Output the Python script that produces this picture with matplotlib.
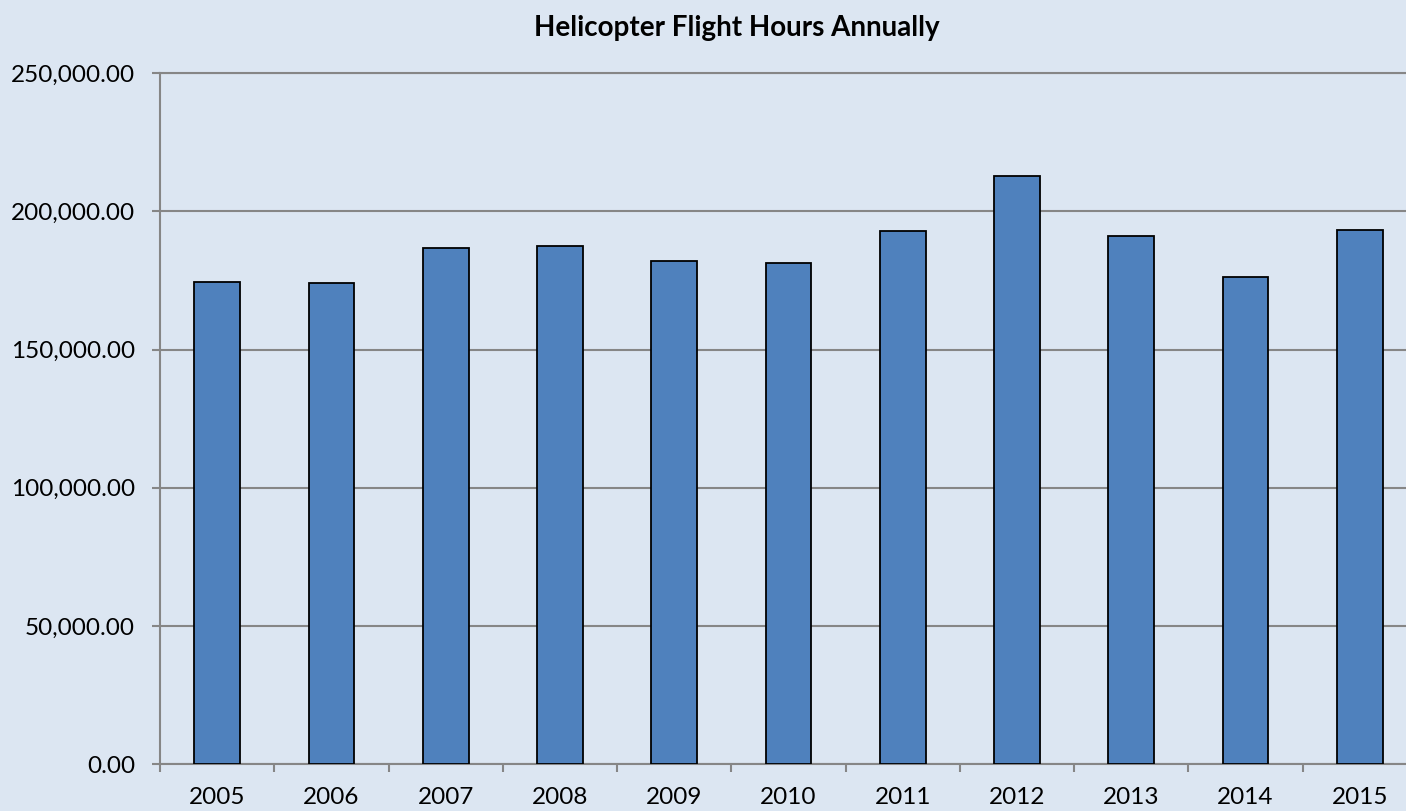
import matplotlib
matplotlib.use("Agg")
import matplotlib.pyplot as plt
from matplotlib.ticker import FuncFormatter, FixedLocator

# ── Data ─────────────────────────────────────────────────────────────────────
years = ["2005", "2006", "2007", "2008", "2009", "2010",
         "2011", "2012", "2013", "2014", "2015"]
flight_hours = [174400, 174200, 186600, 187300, 182000, 181300,
                192900, 212700, 191100, 176300, 193100]

# ── Colours ──────────────────────────────────────────────────────────────────
COL_BG = "#DCE6F2"
COL_BAR = "#4F81BD"
COL_GRID = "#868686"

plt.rcParams["font.family"] = ["Lato", "DejaVu Sans"]

fig = plt.figure(figsize=(14.06, 8.11), dpi=100)
fig.patch.set_facecolor(COL_BG)

# plot area runs past the right edge of the image, like the cropped original
ax = fig.add_axes([160 / 1406, 46.7 / 811, 1257 / 1406, 691.3 / 811])
ax.set_facecolor(COL_BG)

x = list(range(len(years)))
ax.bar(x, flight_hours, width=0.4, color=COL_BAR,
       edgecolor="black", linewidth=1.3, zorder=3)

ax.set_xlim(-0.5, len(years) - 0.5)
ax.set_ylim(0, 250000)

# y axis
ax.yaxis.set_major_locator(FixedLocator([0, 50000, 100000, 150000, 200000, 250000]))
ax.yaxis.set_major_formatter(FuncFormatter(lambda v, p: f"{v:,.2f}"))
ax.grid(axis="y", color=COL_GRID, linewidth=1.5, zorder=1)
ax.tick_params(axis="y", length=6, width=1.5, color=COL_GRID,
               labelsize=17.5, pad=12, labelcolor="black")

# x axis: labels centred, tick marks on category boundaries
ax.set_xticks(x)
ax.set_xticklabels(years)
ax.set_xticks([i - 0.5 for i in range(len(years) + 1)], minor=True)
ax.tick_params(axis="x", which="major", length=0, labelsize=17.5, pad=16)
ax.tick_params(axis="x", which="minor", length=6, width=1.5, color=COL_GRID)

ax.spines["right"].set_visible(False)
for side in ("left", "bottom", "top"):
    ax.spines[side].set_color(COL_GRID)
    ax.spines[side].set_linewidth(1.5)

fig.text(737 / 1406, 1 - 28 / 811, "Helicopter Flight Hours Annually",
         ha="center", va="center", fontsize=20, fontweight="bold")

fig.savefig("out.png", dpi=100, facecolor=COL_BG)
